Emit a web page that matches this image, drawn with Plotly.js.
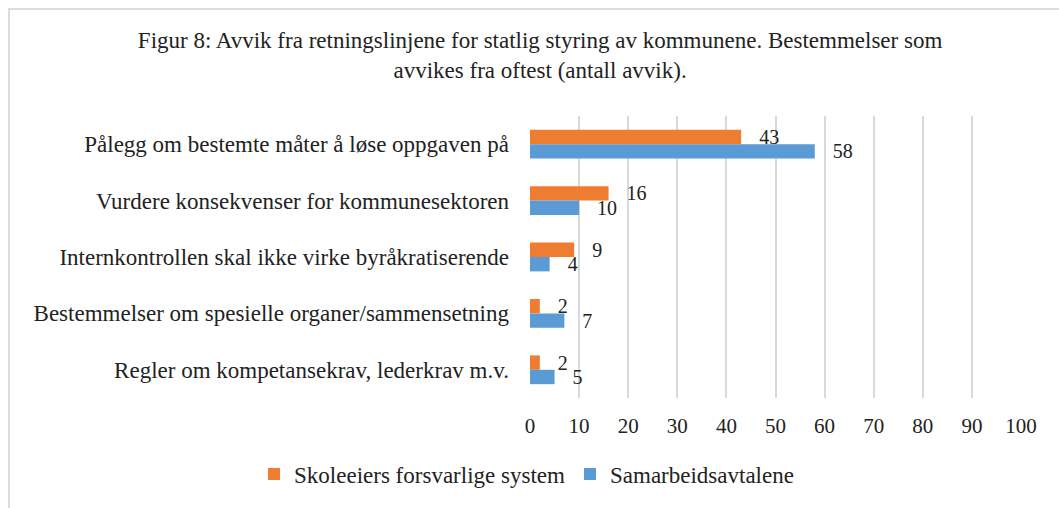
<!DOCTYPE html>
<html><head><meta charset="utf-8">
<script src="https://cdn.plot.ly/plotly-3.0.1.min.js"></script>
<style>body{margin:0;background:#fff;overflow:hidden}#frame{position:absolute;left:8px;top:8px;width:1100px;height:560px;border:2px solid #dcdcdc;pointer-events:none}</style>
</head><body>
<div id="chart" style="width:1059px;height:508px"></div>
<div id="frame"></div>
<script>
const categories = ["Pålegg om bestemte måter å løse oppgaven på","Vurdere konsekvenser for kommunesektoren","Internkontrollen skal ikke virke byråkratiserende","Bestemmelser om spesielle organer/sammensetning","Regler om kompetansekrav, lederkrav m.v."];
const seriesNames = ["Skoleeiers forsvarlige system","Samarbeidsavtalene"];
const skoleeiers = [43,16,9,2,2];
const samarbeid = [58,10,4,7,5];
const xTicks = [0,10,20,30,40,50,60,70,80,90,100];
const font = "Liberation Serif, Times New Roman, serif";
const lbl = {size:20,color:'#222',family:font};
const traces = [
 {type:'bar',orientation:'h',name:seriesNames[0],y:categories,x:skoleeiers,marker:{color:'#ED7D31'},texttemplate:'\u00a0\u00a0\u00a0%{x}',textposition:'outside',constraintext:'none',textfont:lbl,outsidetextfont:lbl,cliponaxis:false},
 {type:'bar',orientation:'h',name:seriesNames[1],y:categories,x:samarbeid,marker:{color:'#5B9BD5'},texttemplate:'\u00a0\u00a0\u00a0%{x}',textposition:'outside',constraintext:'none',textfont:lbl,outsidetextfont:lbl,cliponaxis:false}
];
const layout = {
 width:1059,height:508,
 font:{family:font,color:'#222',size:23},
 title:{text:"Figur 8: Avvik fra retningslinjene for statlig styring av kommunene. Bestemmelser som<br>avvikes fra oftest (antall avvik).",x:0.51,xanchor:'center',y:0.905,yanchor:'top',font:{size:23,family:font,color:'#222'}},
 margin:{l:530,r:38,t:116,b:107},
 barmode:'group',bargap:0.49,
 xaxis:{range:[0,100],tickvals:xTicks,showgrid:true,gridcolor:'#d9d9d9',gridwidth:2,zeroline:false,showline:false,ticks:'',tickfont:{size:21},ticklabelstandoff:13,fixedrange:true},
 yaxis:{autorange:'reversed',showgrid:false,ticks:'',tickfont:{size:23},ticklabelstandoff:20,showline:false,fixedrange:true},
 legend:{orientation:'h',x:-0.562,xanchor:'left',y:-0.27,yanchor:'middle',font:{size:23},traceorder:'normal',itemwidth:30,bgcolor:'rgba(0,0,0,0)'},
 showlegend:true,paper_bgcolor:'#fff',plot_bgcolor:'#fff'
};
Plotly.newPlot('chart',traces,layout,{displayModeBar:false,staticPlot:true});
</script></body></html>
